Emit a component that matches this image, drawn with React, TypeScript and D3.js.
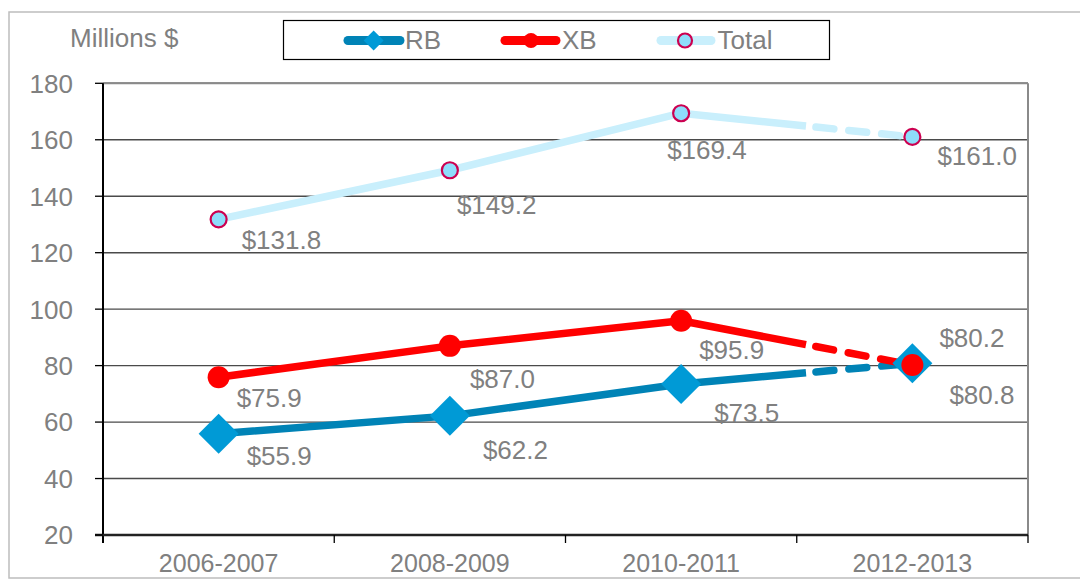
import React from "react";
import * as d3 from "d3";

// chart values
const categories = ["2006-2007", "2008-2009", "2010-2011", "2012-2013"];
const rbValues = [55.9, 62.2, 73.5, 80.8];
const xbValues = [75.9, 87.0, 95.9, 80.2];
const totalValues = [131.8, 149.2, 169.4, 161.0];
const yTicks = [20, 40, 60, 80, 100, 120, 140, 160, 180];

// label placement relative to the point (layout only)
const rbLabelOffsets = [[28, 31], [33, 43], [33, 38], [37, 41]];
const xbLabelOffsets = [[18, 30], [20, 42], [18, 38], [27, -18]];
const totalLabelOffsets = [[23, 30], [7, 44], [-14, 46], [25, 28]];

const W = 1080;
const H = 579;
const left = 103, right = 1028, top = 83.3, bottom = 535;
const font = "'Liberation Sans', Arial, sans-serif";
const gray = "#808080";

const x = d3.scaleBand<string>().domain(categories).range([left, right]);
const y = d3.scaleLinear().domain([20, 180]).range([bottom, top]);
const cx = (c: string) => (x(c) as number) + x.bandwidth() / 2;
const fmt = d3.format(".1f");

const line = d3.line<[number, number]>().x((d) => d[0]).y((d) => d[1]);

// solid up to a bit past the middle of the last segment, dashed after
const splitPaths = (vals: number[]) => {
    const pts: [number, number][] = vals.map((v, i) => [cx(categories[i]), y(v)]);
    const a = pts[pts.length - 2], b = pts[pts.length - 1];
    const t = 0.54;
    const m: [number, number] = [a[0] + (b[0] - a[0]) * t, a[1] + (b[1] - a[1]) * t];
    return {
        solid: line([...pts.slice(0, -1), m]) as string,
        dashed: line([m, b]) as string,
        pts,
    };
};

const series = [
    { name: "RB", values: rbValues, offsets: rbLabelOffsets, lineColor: "#0083B6", marker: "diamond" },
    { name: "XB", values: xbValues, offsets: xbLabelOffsets, lineColor: "#FF0000", marker: "circle" },
];

const Marker = ({ kind, px, py, size }) => {
    if (kind === "diamond") {
        return (
            <path
                d={`M${px},${py - size}L${px + size},${py}L${px},${py + size}L${px - size},${py}Z`}
                fill="#009AD6"
            />
        );
    }
    if (kind === "circle") {
        return <circle cx={px} cy={py} r={size} fill="#FF0000" />;
    }
    return <circle cx={px} cy={py} r={size} fill="#8EDDFB" stroke="#CC0050" strokeWidth={2.2} />;
};

const App = () => {
    const total = splitPaths(totalValues);

    return (
        <svg width={W} height={H} style={{ position: "absolute", left: 0, top: 0, background: "#fff" }}
            fontFamily={font}>
            <rect x={9} y={12} width={W + 20} height={566} fill="none" stroke="#bdbdbd" strokeWidth={1.5} />

            {/* gridlines */}
            {yTicks.slice(1).map((t) => (
                <line key={t} x1={left} x2={right} y1={y(t)} y2={y(t)} stroke="#4a4a4a" strokeWidth={1.4} />
            ))}
            {/* frame */}
            <line x1={left} x2={right} y1={top} y2={top} stroke="#8a8a8a" strokeWidth={2} />
            <line x1={right} x2={right} y1={top} y2={bottom} stroke="#8a8a8a" strokeWidth={2} />
            <line x1={left} x2={left} y1={top} y2={bottom + 8} stroke="#000" strokeWidth={2} />
            <line x1={left - 8} x2={right} y1={bottom} y2={bottom} stroke="#222" strokeWidth={2.5} />

            {/* y axis */}
            {yTicks.map((t) => (
                <g key={t}>
                    <line x1={left - 8} x2={left} y1={y(t)} y2={y(t)} stroke="#000" strokeWidth={1.3} />
                    <text x={73} y={y(t)} dy="0.36em" textAnchor="end" fontSize={26} fill={gray}>{t}</text>
                </g>
            ))}
            <text x={70} y={46.5} fontSize={26} fill={gray}>Millions $</text>

            {/* x axis */}
            {categories.map((c, i) => (
                <g key={c}>
                    <line x1={(x(c) as number) + x.bandwidth()} x2={(x(c) as number) + x.bandwidth()}
                        y1={bottom} y2={bottom + 8} stroke="#000" strokeWidth={1.3} />
                    <text x={cx(c)} y={572} textAnchor="middle" fontSize={25} fill={gray}>{c}</text>
                </g>
            ))}

            {/* Total */}
            <g>
                <path d={total.solid} fill="none" stroke="#C9EFFC" strokeWidth={7.5} strokeLinejoin="round" />
                <path d={total.dashed} fill="none" stroke="#C9EFFC" strokeWidth={7.5} strokeLinecap="round"
                    strokeDasharray="18 15" strokeDashoffset={-10} />
                {total.pts.map((p, i) => (
                    <Marker key={i} kind="ring" px={p[0]} py={p[1]} size={8} />
                ))}
                {total.pts.map((p, i) => (
                    <text key={"t" + i} x={p[0] + totalLabelOffsets[i][0]} y={p[1] + totalLabelOffsets[i][1]}
                        fontSize={26} fill={gray}>${fmt(totalValues[i])}</text>
                ))}
            </g>

            {series.map((s) => {
                const sp = splitPaths(s.values);
                return (
                    <g key={s.name}>
                        <path d={sp.solid} fill="none" stroke={s.lineColor} strokeWidth={7.5} strokeLinejoin="round" />
                        <path d={sp.dashed} fill="none" stroke={s.lineColor} strokeWidth={7.5} strokeLinecap="round"
                            strokeDasharray="18 15" strokeDashoffset={-10} />
                    </g>
                );
            })}
            {series.map((s) => {
                const sp = splitPaths(s.values);
                return (
                    <g key={s.name + "m"}>
                        {sp.pts.map((p, i) => (
                            <Marker key={i} kind={s.marker} px={p[0]} py={p[1]} size={s.marker === "diamond" ? 20 : 11} />
                        ))}
                        {sp.pts.map((p, i) => (
                            <text key={"t" + i} x={p[0] + s.offsets[i][0]} y={p[1] + s.offsets[i][1]}
                                fontSize={26} fill={gray}>${fmt(s.values[i])}</text>
                        ))}
                    </g>
                );
            })}

            {/* legend */}
            <rect x={283.5} y={20.5} width={546} height={39} fill="#fff" stroke="#000" strokeWidth={1.2} />
            <g>
                <line x1={348} x2={400} y1={40.5} y2={40.5} stroke="#0083B6" strokeWidth={9} strokeLinecap="round" />
                <Marker kind="diamond" px={373.6} py={40.5} size={10} />
                <text x={405} y={49} fontSize={26} fill={gray}>RB</text>

                <line x1={505} x2={556} y1={40.5} y2={40.5} stroke="#FF0000" strokeWidth={9} strokeLinecap="round" />
                <Marker kind="circle" px={531} py={40.5} size={7.5} />
                <text x={562} y={49} fontSize={26} fill={gray}>XB</text>

                <line x1={661} x2={711} y1={40.5} y2={40.5} stroke="#C9EFFC" strokeWidth={9} strokeLinecap="round" />
                <Marker kind="ring" px={685} py={40.5} size={7} />
                <text x={717.5} y={49} fontSize={26} fill={gray}>Total</text>
            </g>
        </svg>
    );
};

export default App;
